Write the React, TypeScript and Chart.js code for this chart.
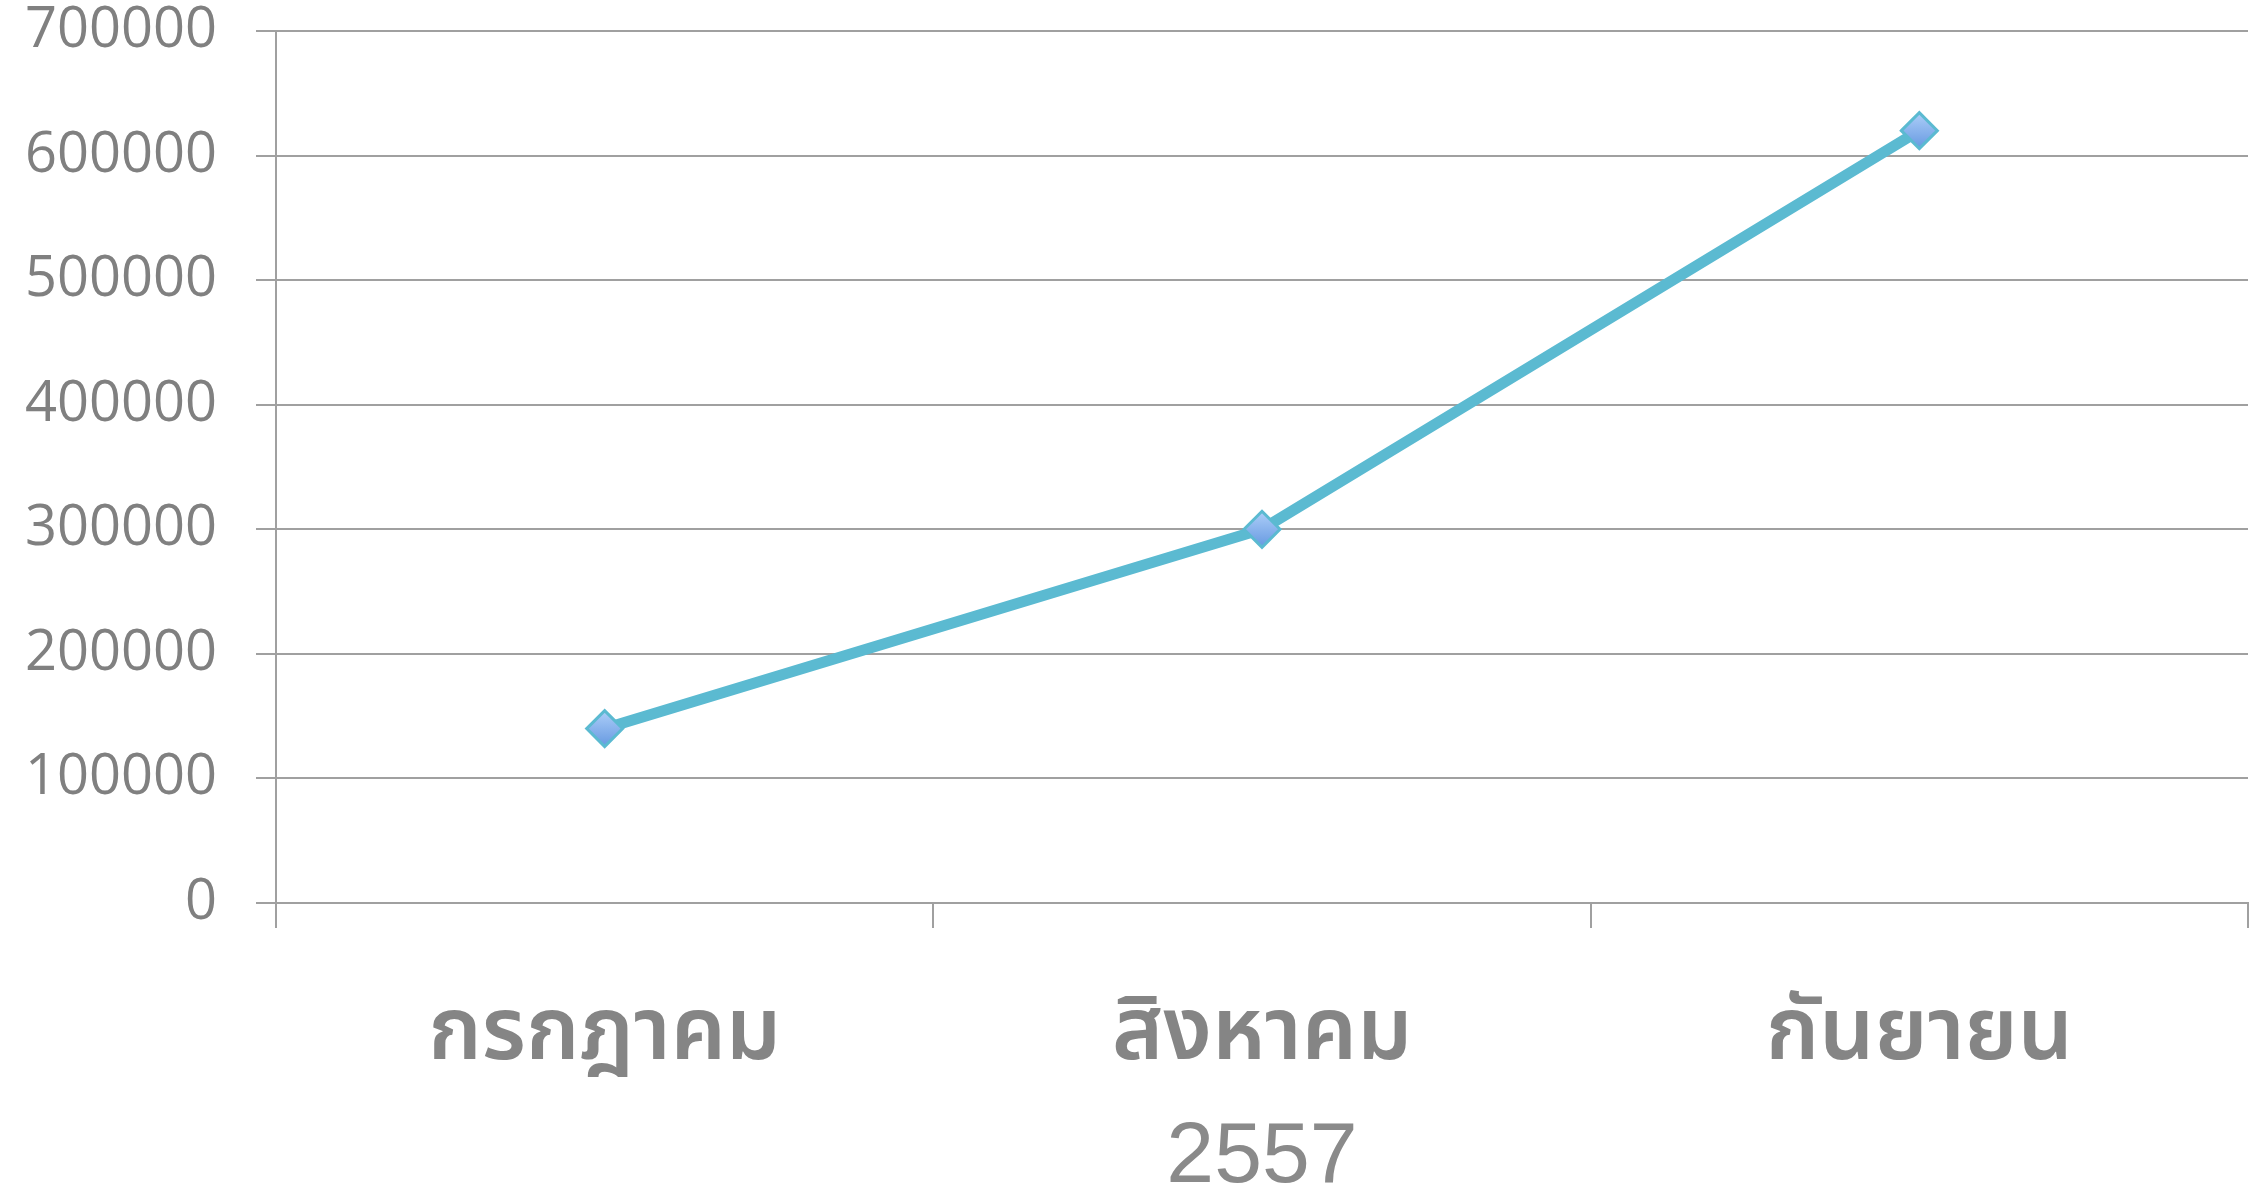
import React, { useEffect, useRef } from "react";
import { Chart, registerables } from "chart.js";

Chart.register(...registerables);

const categories: string[] = ["กรกฎาคม", "สิงหาคม", "กันยายน"];
const seriesValues: number[] = [140000, 300000, 620000];
const xTitle = "2557";
const yMin = 0;
const yMax = 700000;
const yStep = 100000;

export default function App() {
  const ref = useRef<HTMLCanvasElement | null>(null);

  useEffect(() => {
    document.body.style.margin = "0";
    const canvas = ref.current;
    if (!canvas) return;
    const chart = new Chart(canvas, {
      type: "line",
      data: {
        labels: categories,
        datasets: [
          {
            data: seriesValues,
            borderColor: "#5BBAD1",
            borderWidth: 11,
            tension: 0,
            pointStyle: "rectRot",
            pointRadius: 18,
            pointBorderWidth: 3,
            pointBorderColor: "#5BBAD1",
            pointBackgroundColor: (ctx: any) => {
              try {
                const c = ctx.chart;
                const ys = c.scales.y;
                const v = ctx.parsed ? ctx.parsed.y : seriesValues[ctx.dataIndex];
                const py = ys.getPixelForValue(v);
                if (!isFinite(py)) return "#88B2EC";
                const g = c.ctx.createLinearGradient(0, py - 16, 0, py + 16);
                g.addColorStop(0, "#A9CBF7");
                g.addColorStop(1, "#6A9CE2");
                return g;
              } catch (e) {
                return "#88B2EC";
              }
            },
            fill: false,
            clip: false,
          },
        ],
      },
      options: {
        animation: false,
        responsive: false,
        maintainAspectRatio: false,
        layout: { autoPadding: false, padding: { top: 31, right: 2, left: 0, bottom: 0 } },
        plugins: {
          legend: { display: false },
          tooltip: { enabled: false },
        },
        scales: {
          x: {
            type: "category",
            offset: true,
            grid: {
              offset: true,
              drawOnChartArea: false,
              drawTicks: true,
              tickLength: 25,
              color: "#A0A0A0",
              lineWidth: 2,
            },
            border: { display: true, color: "#A0A0A0", width: 2 },
            ticks: {
              color: "#858585",
              padding: 70,
              font: { family: "'Noto Sans Thai', 'Noto Sans', sans-serif", size: 87, weight: 600, lineHeight: 1 },
              maxRotation: 0,
              autoSkip: false,
            },
            title: {
              display: true,
              text: xTitle,
              color: "#8A8A8A",
              font: { family: "'Liberation Sans', Arial, sans-serif", size: 86, lineHeight: 0.7 },
              padding: { top: 0, bottom: 0 },
            },
            afterFit: (scale: any) => {
              scale.height = 285;
              scale.paddingLeft = 0;
              scale.paddingRight = 0;
            },
          },
          y: {
            min: yMin,
            max: yMax,
            grid: {
              color: "#A0A0A0",
              lineWidth: 2,
              tickLength: 20,
              drawTicks: true,
            },
            border: { display: true, color: "#A0A0A0", width: 2 },
            ticks: {
              stepSize: yStep,
              color: "#808080",
              padding: 39,
              font: { family: "'Open Sans', sans-serif", size: 56, lineHeight: 1 },
              callback: (v: any) => String(v),
            },
            afterFit: (scale: any) => {
              scale.width = 276;
              scale.paddingTop = 0;
              scale.paddingBottom = 0;
            },
          },
        },
      },
    });
    return () => chart.destroy();
  }, []);

  return (
    <div style={{ position: "absolute", left: 0, top: 0, width: 2250, height: 1188, background: "#fff" }}>
      <canvas ref={ref} width={2250} height={1188} style={{ display: "block", width: 2250, height: 1188 }} />
    </div>
  );
}
